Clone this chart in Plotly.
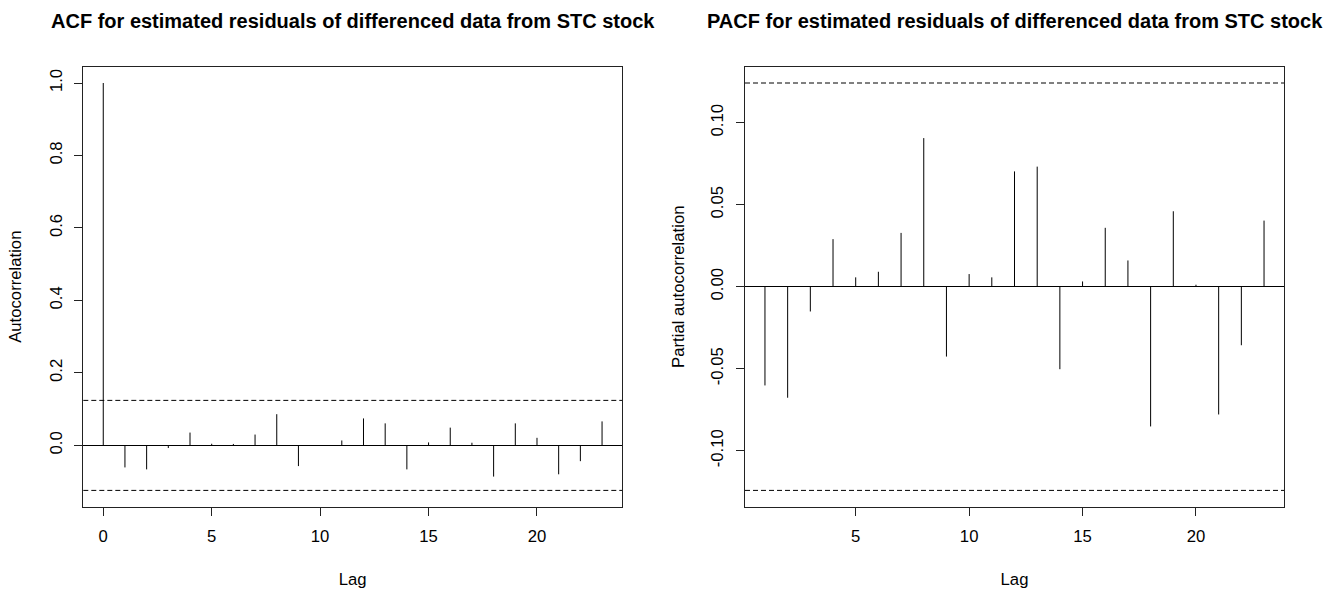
import plotly.graph_objects as go

# ---------------- data ----------------
acf_lags = list(range(0, 24))
acf_vals = [1.0, -0.0608, -0.0662, -0.0073, 0.0354, 0.0045, 0.0040, 0.0299,
            0.0861, -0.0571, 0.0005, 0.0136, 0.0744, 0.0608, -0.0662, 0.0082,
            0.0490, 0.0073, -0.0861, 0.0608, 0.0209, -0.0798, -0.0435, 0.0662]

pacf_lags = list(range(1, 24))
pacf_vals = [-0.0602, -0.0677, -0.0151, 0.0290, 0.0057, 0.0091, 0.0328, 0.0906,
             -0.0426, 0.0077, 0.0057, 0.0703, 0.0732, -0.0503, 0.0032, 0.0359,
             0.0160, -0.0852, 0.0460, 0.0012, -0.0779, -0.0357, 0.0403]

ci = 0.1242  # 95% confidence bound

acf_xticks = [0, 5, 10, 15, 20]
acf_yticks = [0.0, 0.2, 0.4, 0.6, 0.8, 1.0]
acf_yticklabels = ["0.0", "0.2", "0.4", "0.6", "0.8", "1.0"]

pacf_xticks = [5, 10, 15, 20]
pacf_yticks = [-0.10, -0.05, 0.0, 0.05, 0.10]
pacf_yticklabels = ["-0.10", "-0.05", "0.00", "0.05", "0.10"]

title_acf = "ACF for estimated residuals of differenced data from STC stock"
title_pacf = "PACF for estimated residuals of differenced data from STC stock"
xlabel = "Lag"
ylabel_acf = "Autocorrelation"
ylabel_pacf = "Partial autocorrelation"

# ---------------- helpers ----------------
def spikes(lags, vals):
    xs, ys = [], []
    for l, v in zip(lags, vals):
        xs += [l, l, None]
        ys += [0, v, None]
    return xs, ys

def r_range(lo, hi):
    d = (hi - lo) * 0.04
    return [lo - d, hi + d]

FONT = "Liberation Sans, Arial, sans-serif"
LINE = "#222222"
FS = 16.7

fig = go.Figure()

x1, y1 = spikes(acf_lags, acf_vals)
fig.add_trace(go.Scatter(x=x1, y=y1, mode="lines", line=dict(color="black", width=1),
                         xaxis="x", yaxis="y", showlegend=False, hoverinfo="skip"))
x2, y2 = spikes(pacf_lags, pacf_vals)
fig.add_trace(go.Scatter(x=x2, y=y2, mode="lines", line=dict(color="black", width=1),
                         xaxis="x2", yaxis="y2", showlegend=False, hoverinfo="skip"))

# confidence lines
for yref, xref in (("y", "x domain"), ("y2", "x2 domain")):
    for s in (1, -1):
        fig.add_shape(type="line", xref=xref, yref=yref, x0=0, x1=1, y0=s * ci, y1=s * ci,
                      line=dict(color="black", width=1, dash="5px,3px"), layer="above")

axis_common = dict(showline=True, mirror=True, linecolor=LINE, linewidth=1,
                   ticks="outside", ticklen=8, tickcolor=LINE, tickwidth=1,
                   showgrid=False, tickfont=dict(family=FONT, size=FS, color="black"),
                   title_font=dict(family=FONT, size=FS, color="black"))

acf_xr = r_range(min(acf_lags), max(acf_lags))
acf_yr = r_range(min(min(acf_vals), -ci), max(max(acf_vals), ci))
pacf_xr = r_range(min(pacf_lags), max(pacf_lags))
pacf_yr = r_range(min(min(pacf_vals), -ci), max(max(pacf_vals), ci))

fig.update_layout(
    width=1328, height=600,
    margin=dict(l=0, r=0, t=0, b=0),
    paper_bgcolor="white", plot_bgcolor="white",
    font=dict(family=FONT, color="black"),
    xaxis=dict(domain=[83.3 / 1328, 622 / 1328], range=acf_xr, tickvals=acf_xticks,
               anchor="y", zeroline=False, ticklabelstandoff=6,
               title=dict(text=xlabel, standoff=28), **axis_common),
    yaxis=dict(domain=[1 - 506.7 / 600, 1 - 66.7 / 600], range=acf_yr, tickvals=acf_yticks,
               ticktext=acf_yticklabels, tickangle=-90, anchor="x",
               zeroline=True, zerolinecolor="black", zerolinewidth=1, ticklabelstandoff=6,
               title=dict(text=ylabel_acf, standoff=20), **axis_common),
    xaxis2=dict(domain=[745 / 1328, 1284 / 1328], range=pacf_xr, tickvals=pacf_xticks,
                anchor="y2", zeroline=False, ticklabelstandoff=6,
                title=dict(text=xlabel, standoff=28), **axis_common),
    yaxis2=dict(domain=[1 - 506.7 / 600, 1 - 66.7 / 600], range=pacf_yr, tickvals=pacf_yticks,
                ticktext=pacf_yticklabels, tickangle=-90, anchor="x2",
                zeroline=True, zerolinecolor="black", zerolinewidth=1, ticklabelstandoff=6,
                title=dict(text=ylabel_pacf, standoff=19), **axis_common),
    annotations=[
        dict(text="<b>" + title_acf + "</b>", x=(83.3 + 622) / 2 / 1328, y=1 - 21 / 600,
             xref="paper", yref="paper", showarrow=False, xanchor="center", yanchor="middle",
             font=dict(family=FONT, size=20, color="black")),
        dict(text="<b>" + title_pacf + "</b>", x=(745 + 1284) / 2 / 1328, y=1 - 21 / 600,
             xref="paper", yref="paper", showarrow=False, xanchor="center", yanchor="middle",
             font=dict(family=FONT, size=20, color="black")),
    ],
)

fig.write_html("out.html",
               config={"displayModeBar": False, "staticPlot": True},
               post_script="document.body.style.margin='0';document.body.style.padding='0';")
